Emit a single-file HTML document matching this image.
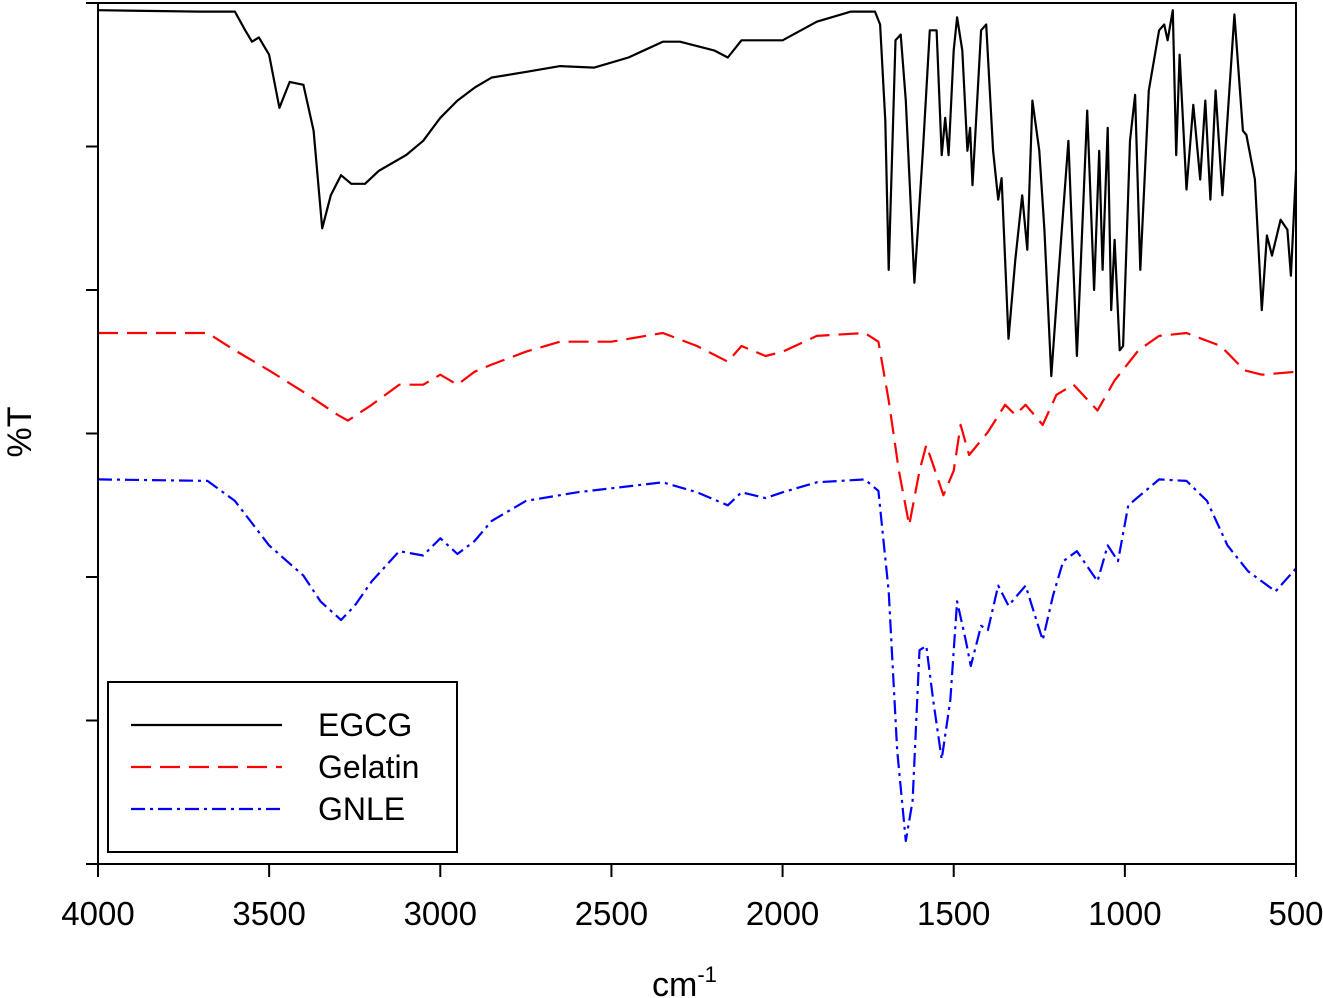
<!DOCTYPE html>
<html><head><meta charset="utf-8">
<style>
html,body{margin:0;padding:0;background:#fff;}
svg{display:block;font-family:"Liberation Sans",Arial,sans-serif;}
</style></head>
<body>
<svg id="chart" width="1323" height="998" viewBox="0 0 1323 998" xmlns="http://www.w3.org/2000/svg">
<g id="plot"></g>
<g id="axes"></g>
<g id="legend">
  <rect x="108" y="682" width="349" height="170" fill="#fff" stroke="#000" stroke-width="2"/>
  <line x1="131" y1="725" x2="282" y2="725" stroke="#000" stroke-width="2.2"/>
  <text x="318" y="736" font-size="32">EGCG</text>
  <line x1="131" y1="767" x2="282" y2="767" stroke="#f00" stroke-width="2.2" stroke-dasharray="20,9"/>
  <text x="318" y="778" font-size="32">Gelatin</text>
  <line x1="131" y1="809" x2="282" y2="809" stroke="#00f" stroke-width="2.2" stroke-dasharray="14,5,3,5"/>
  <text x="318" y="820" font-size="32">GNLE</text>
</g>
<text x="652" y="996" font-size="34">cm<tspan font-size="22" dy="-14">-1</tspan></text>
<text transform="translate(31,432) rotate(-90)" text-anchor="middle" font-size="34">%T</text>
</svg>
<script>
const xTicks=[4000,3500,3000,2500,2000,1500,1000,500];
const yTicks=[0,1,2,3,4,5,6];
const egcgX=[4000,3700,3600,3570,3550,3530,3500,3470,3440,3400,3370,3345,3320,3290,3260,3220,3180,3100,3050,3000,2950,2900,2850,2750,2650,2550,2450,2350,2300,2200,2160,2120,2050,2000,1900,1800,1730,1715,1700,1690,1670,1655,1640,1615,1590,1570,1550,1535,1525,1515,1500,1490,1475,1460,1452,1445,1420,1405,1385,1370,1360,1340,1320,1300,1285,1270,1250,1235,1215,1195,1165,1140,1110,1090,1075,1065,1050,1040,1030,1015,1005,985,970,955,930,900,885,875,860,850,840,820,800,780,765,750,735,715,680,655,645,620,600,585,570,545,525,515,500];
const egcgY=[5.95,5.94,5.94,5.81,5.73,5.76,5.64,5.27,5.45,5.43,5.11,4.43,4.66,4.80,4.74,4.74,4.83,4.94,5.04,5.20,5.32,5.41,5.48,5.52,5.56,5.55,5.62,5.73,5.73,5.67,5.62,5.74,5.74,5.74,5.87,5.94,5.94,5.85,5.18,4.14,5.74,5.78,5.32,4.05,4.97,5.81,5.81,4.94,5.20,4.94,5.67,5.90,5.67,4.97,5.13,4.73,5.81,5.85,4.97,4.63,4.78,3.66,4.21,4.66,4.28,5.32,4.97,4.42,3.40,4.07,5.04,3.54,5.25,4.00,4.97,4.14,5.13,3.86,4.35,3.58,3.61,5.04,5.36,4.14,5.39,5.81,5.85,5.74,5.95,4.94,5.64,4.70,5.29,4.77,5.32,4.63,5.39,4.66,5.92,5.11,5.08,4.77,3.86,4.38,4.24,4.49,4.42,4.10,4.83];
const gelX=[4000,3680,3600,3500,3400,3300,3270,3200,3120,3050,3000,2950,2900,2850,2750,2650,2500,2350,2250,2160,2120,2050,2000,1900,1760,1720,1690,1660,1630,1600,1580,1560,1530,1500,1480,1455,1400,1350,1320,1290,1240,1200,1150,1080,1030,960,900,820,720,650,600,500];
const gelY=[3.70,3.70,3.58,3.44,3.29,3.13,3.09,3.20,3.34,3.34,3.41,3.34,3.43,3.48,3.57,3.64,3.64,3.70,3.61,3.50,3.61,3.54,3.57,3.68,3.70,3.64,3.23,2.74,2.36,2.74,2.92,2.78,2.57,2.74,3.06,2.85,3.01,3.20,3.13,3.20,3.06,3.27,3.34,3.16,3.37,3.58,3.68,3.70,3.61,3.44,3.41,3.43];
const gnleX=[4000,3680,3600,3500,3400,3350,3290,3250,3200,3120,3050,3000,2950,2900,2850,2750,2600,2350,2250,2160,2120,2050,2000,1900,1760,1720,1690,1665,1640,1620,1600,1580,1560,1535,1510,1490,1465,1450,1420,1400,1370,1340,1290,1240,1210,1180,1140,1080,1050,1020,990,900,820,760,700,640,560,500];
const gnleY=[2.68,2.67,2.53,2.22,2.01,1.83,1.70,1.80,1.97,2.18,2.15,2.27,2.16,2.25,2.39,2.53,2.59,2.66,2.59,2.50,2.59,2.55,2.59,2.66,2.68,2.60,1.90,0.79,0.16,0.44,1.49,1.52,1.14,0.73,1.14,1.83,1.56,1.38,1.66,1.63,1.94,1.80,1.94,1.56,1.87,2.11,2.18,1.97,2.22,2.11,2.50,2.68,2.67,2.53,2.22,2.04,1.90,2.06];

const L=98,R=1296,T=3,B=864;
function sx(w){return L+(4000-w)/3500*(R-L);}
function sy(v){return B-v/6*(B-T);}
const NS="http://www.w3.org/2000/svg";
const plot=document.getElementById('plot'),axes=document.getElementById('axes');
function mk(tag,attrs,parent){const e=document.createElementNS(NS,tag);for(const k in attrs)e.setAttribute(k,attrs[k]);parent.appendChild(e);return e;}

function series(xs,ys,color,dash,name){
  const pts=xs.map((x,i)=>sx(x).toFixed(1)+','+sy(ys[i]).toFixed(1)).join(' ');
  const p=mk('polyline',{points:pts,fill:'none',stroke:color,'stroke-width':2.2,'stroke-linejoin':'round'},plot);
  if(dash)p.setAttribute('stroke-dasharray',dash);
  
  
}
series(egcgX,egcgY,'#000',null,'egcg-line');
series(gelX,gelY,'#f00','20,9','gelatin-line');
series(gnleX,gnleY,'#00f','14,5,3,5','gnle-line');

const frame=mk('rect',{x:L,y:T,width:R-L,height:B-T,fill:'none',stroke:'#000','stroke-width':2},axes);


xTicks.forEach(t=>{
  const ln=mk('line',{x1:sx(t),x2:sx(t),y1:B,y2:B+13,stroke:'#000','stroke-width':2},axes);
  
  
  const tx=mk('text',{x:sx(t),y:925,'text-anchor':'middle','font-size':33},axes);
  tx.textContent=t;
  
  
});
yTicks.forEach(t=>{
  const ln=mk('line',{x1:L-12,x2:L,y1:sy(t),y2:sy(t),stroke:'#000','stroke-width':2},axes);
  
  
});
</script>
</body></html>
